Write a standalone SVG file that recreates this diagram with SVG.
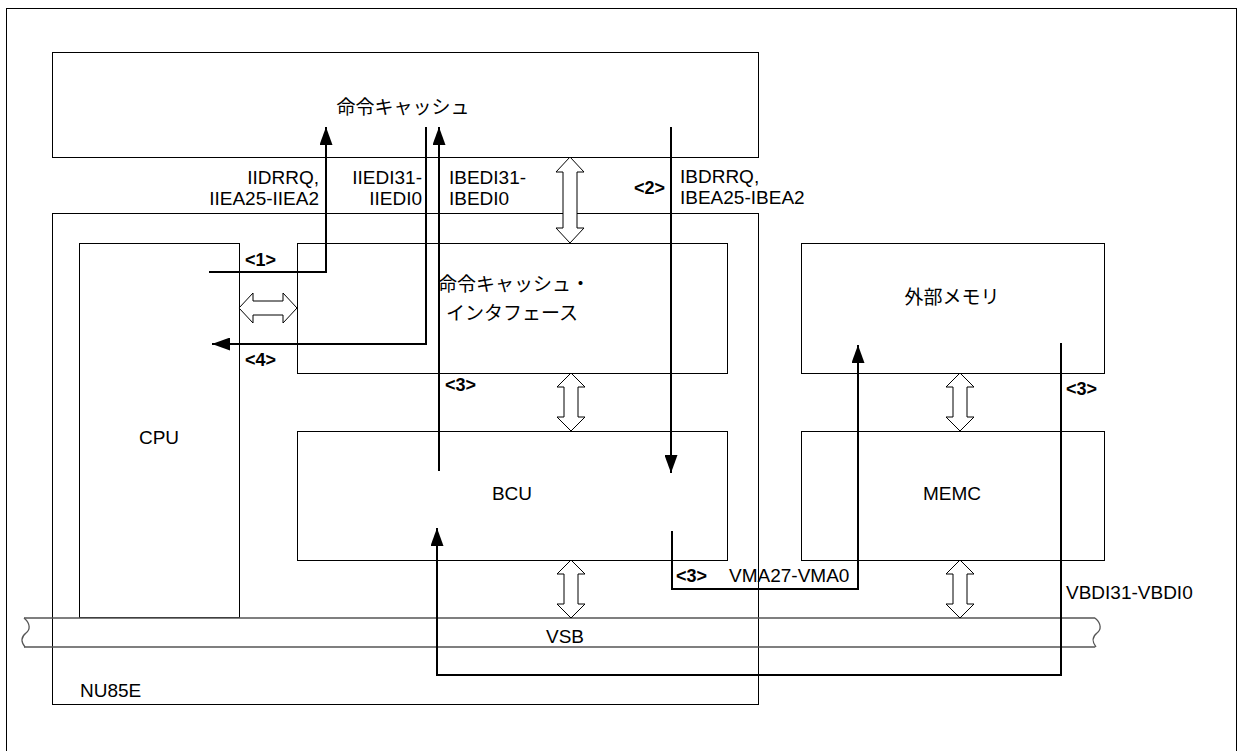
<svg xmlns="http://www.w3.org/2000/svg" width="1241" height="751" viewBox="0 0 1241 751">
<style>
.box{fill:none;stroke:#000;stroke-width:1}
.bus{fill:none;stroke:#555;stroke-width:1.3}
.dbl{fill:#fff;stroke:#000;stroke-width:1}
.wire{fill:none;stroke:#000;stroke-width:2}
.t{font-family:"Liberation Sans","Noto Sans CJK JP",sans-serif;font-size:19px;fill:#000}
.m{text-anchor:middle}
.e{text-anchor:end}
.b{font-weight:bold;font-size:18px}
</style>
<defs>
<marker id="ah" viewBox="0 0 18 13" refX="18" refY="6.5" markerWidth="18" markerHeight="13" markerUnits="userSpaceOnUse" orient="auto">
<path d="M0,0 L18,6.5 L0,13 Z" fill="#000"/>
</marker>
</defs>
<rect width="1241" height="751" fill="#fff"/>
<rect x="6.5" y="8.5" width="1230" height="800" class="box"/>

<g id="icache">
<rect x="52.5" y="52.5" width="706" height="105" class="box"/>
<text x="403" y="114" class="t m">命令キャッシュ</text>
</g>
<g id="nu85e">
<rect x="52.5" y="213.5" width="706" height="491" class="box"/>
<text x="80" y="697" class="t">NU85E</text>
</g>
<g id="cpu">
<rect x="79.5" y="243.5" width="160" height="374" class="box"/>
<text x="159" y="444" class="t m">CPU</text>
</g>
<g id="ici">
<rect x="297.5" y="243.5" width="430" height="130" class="box"/>
<text x="514" y="291" class="t m">命令キャッシュ・</text>
<text x="512" y="320" class="t m">インタフェース</text>
</g>
<g id="bcu">
<rect x="297.5" y="431.5" width="430" height="129" class="box"/>
<text x="512" y="500" class="t m">BCU</text>
</g>
<g id="extmem">
<rect x="801.5" y="243.5" width="303" height="130" class="box"/>
<text x="952" y="304" class="t m">外部メモリ</text>
</g>
<g id="memc">
<rect x="801.5" y="431.5" width="303" height="129" class="box"/>
<text x="952" y="500" class="t m">MEMC</text>
</g>
<g id="vsb">
<path class="bus" d="M24,618 H1095 M24,647 H1095"/>
<path class="bus" d="M1095,618 C1102,624 1101,630 1097,633 C1092,637 1092,642 1096,647"/>
<path class="bus" d="M24,618 C31,624 30,630 26,633 C21,637 21,642 25,647"/>
<text x="565" y="643" class="t m">VSB</text>
</g>

<g id="buses">
<path class="dbl" d="M570,157 L584,172 L577,172 L577,228 L584,228 L570,243 L556,228 L563,228 L563,172 L556,172 Z"/>
<path class="dbl" d="M571,373 L585,387 L578,387 L578,417 L585,417 L571,431 L557,417 L564,417 L564,387 L557,387 Z"/>
<path class="dbl" d="M571,560 L585,574 L578,574 L578,604 L585,604 L571,618 L557,604 L564,604 L564,574 L557,574 Z"/>
<path class="dbl" d="M960,373 L974,387 L967,387 L967,417 L974,417 L960,431 L946,417 L953,417 L953,387 L946,387 Z"/>
<path class="dbl" d="M960,560 L974,574 L967,574 L967,604 L974,604 L960,618 L946,604 L953,604 L953,574 L946,574 Z"/>
<path class="dbl" d="M239,308 L253,293 L253,301 L283,301 L283,293 L297,308 L283,323 L283,315 L253,315 L253,323 Z"/>
</g>

<g id="connectors">
<path class="wire" d="M209,272 H326 V127" marker-end="url(#ah)"/>
<path class="wire" d="M426,127 V344 H212" marker-end="url(#ah)"/>
<path class="wire" d="M439,471 V127" marker-end="url(#ah)"/>
<path class="wire" d="M671,127 V473" marker-end="url(#ah)"/>
<path class="wire" d="M672,531 V589 H858 V345" marker-end="url(#ah)"/>
<path class="wire" d="M1061,343 V675 H437 V528" marker-end="url(#ah)"/>
</g>

<g id="labels">
<text x="319" y="184" class="t e">IIDRRQ,</text>
<text x="319" y="205" class="t e">IIEA25-IIEA2</text>
<text x="422" y="184" class="t e">IIEDI31-</text>
<text x="422" y="205" class="t e">IIEDI0</text>
<text x="449" y="184" class="t">IBEDI31-</text>
<text x="449" y="205" class="t">IBEDI0</text>
<text x="680" y="183" class="t">IBDRRQ,</text>
<text x="680" y="204" class="t">IBEA25-IBEA2</text>
<text x="665" y="194" class="t b e">&lt;2&gt;</text>
<text x="245" y="266" class="t b">&lt;1&gt;</text>
<text x="245" y="366" class="t b">&lt;4&gt;</text>
<text x="445" y="391" class="t b">&lt;3&gt;</text>
<text x="676" y="582" class="t b">&lt;3&gt;</text>
<text x="729" y="582" class="t">VMA27-VMA0</text>
<text x="1066" y="395" class="t b">&lt;3&gt;</text>
<text x="1066" y="599" class="t">VBDI31-VBDI0</text>
</g>
</svg>
